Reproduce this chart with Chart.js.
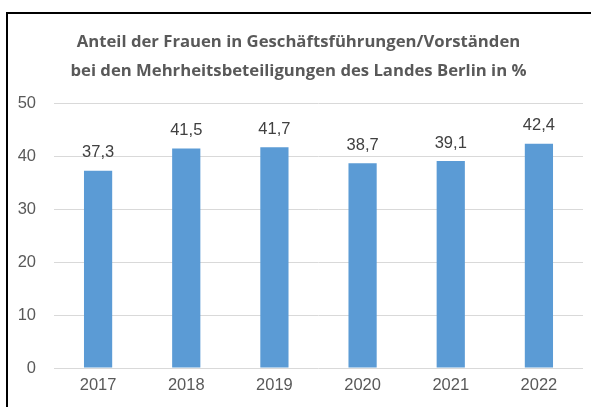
<!DOCTYPE html>
<html>
<head>
<meta charset="utf-8">
<script src="https://cdn.jsdelivr.net/npm/chart.js@4"></script>
<style>
  html, body { margin: 0; padding: 0; background: #fff; }
  #wrap { position: relative; width: 591px; height: 407px; overflow: hidden; }
  #frame { position: absolute; left: 6px; top: 12px; width: 700px; height: 500px;
           border-left: 2px solid #000; border-top: 2px solid #000; pointer-events: none; }
  canvas { position: absolute; left: 0; top: 0; }
</style>
</head>
<body>
<div id="wrap">
  <canvas id="c" width="591" height="407"></canvas>
  <div id="frame"></div>
</div>
<script>
const categories = ["2017", "2018", "2019", "2020", "2021", "2022"];
const values = [37.3, 41.5, 41.7, 38.7, 39.1, 42.4];
const titleLines = ["Anteil der Frauen in Geschäftsführungen/Vorständen",
                    "bei den Mehrheitsbeteiligungen des Landes Berlin in %"];

const labelPlugin = {
  id: 'barLabels',
  afterLayout(chart) {
    const tb = chart.titleBlock;
    if (tb) { tb.left += 7; tb.right += 7; }
  },
  afterDatasetsDraw(chart) {
    const ctx = chart.ctx;
    const meta = chart.getDatasetMeta(0);
    ctx.save();
    ctx.font = '16.5px "Liberation Sans", Arial, sans-serif';
    ctx.fillStyle = '#404040';
    ctx.textAlign = 'center';
    ctx.textBaseline = 'middle';
    meta.data.forEach((bar, i) => {
      const v = values[i].toLocaleString('de-DE', {minimumFractionDigits: 1});
      ctx.fillText(v, bar.x, bar.y - 18);
    });
    ctx.restore();
  }
};

const tickFont = { family: '"Liberation Sans", Arial, sans-serif', size: 16.5 };

new Chart(document.getElementById('c'), {
  type: 'bar',
  data: {
    labels: categories,
    datasets: [{
      data: values,
      backgroundColor: '#5b9bd5',
      borderWidth: 0,
      categoryPercentage: 1,
      barPercentage: 0.32
    }]
  },
  options: {
    responsive: false,
    animation: false,
    devicePixelRatio: 1,
    layout: { padding: { left: 0, right: 8, top: 0, bottom: 11 } },
    plugins: {
      legend: { display: false },
      tooltip: { enabled: false },
      title: {
        display: true,
        text: titleLines,
        color: '#595959',
        font: { family: '"Open Sans", sans-serif', size: 16.7, weight: 'bold', lineHeight: 1.78 },
        padding: { top: 27, bottom: 17 }
      }
    },
    scales: {
      x: {
        offset: true,
        afterFit(scale) { scale.height = 28; },
        grid: { display: false, drawTicks: false },
        border: { display: false },
        ticks: { color: '#595959', font: tickFont, padding: 8 }
      },
      y: {
        min: 0, max: 50,
        afterFit(scale) { scale.width = 54; },
        border: { display: false },
        grid: { color: '#d9d9d9', lineWidth: 1, drawTicks: false },
        ticks: { stepSize: 10, color: '#595959', font: tickFont, padding: 18 }
      }
    }
  },
  plugins: [labelPlugin]
});
</script>
</body>
</html>
